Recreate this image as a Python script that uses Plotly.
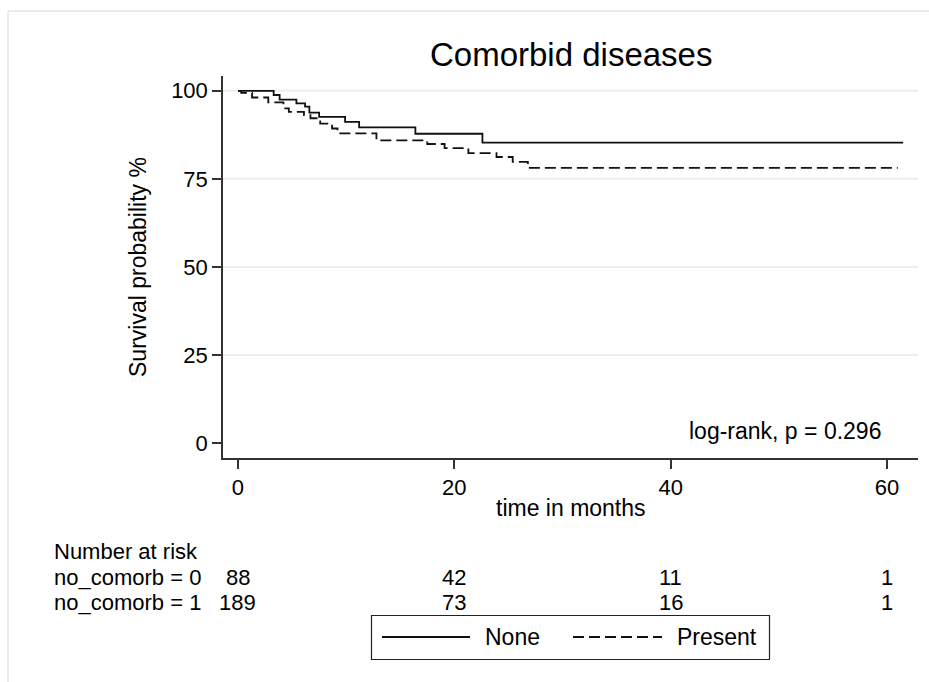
import plotly.graph_objects as go

# ---- data ----
time_none = [0, 3.3, 3.85, 5.4, 6.2, 6.6, 7.5, 9.9, 11.2, 16.4, 22.6, 61.5]
surv_none = [100, 98.8, 97.5, 96.4, 95.5, 93.8, 92.6, 91.2, 89.6, 87.8, 85.3, 85.3]

time_present = [0, 0.3, 1.3, 2.8, 4.2, 4.7, 6.1, 6.7, 7.6, 8.7, 9.2, 12.8, 17.5, 19.1, 21.3, 23.9, 25.4, 26.8, 61.0]
surv_present = [100, 99.4, 98.1, 96.7, 95.0, 94.0, 93.1, 92.2, 90.7, 89.3, 87.9, 85.9, 84.9, 83.7, 82.3, 81.2, 79.8, 78.1, 78.1]

x_ticks = [0, 20, 40, 60]
y_ticks = [0, 25, 50, 75, 100]

risk_labels = ["no_comorb = 0", "no_comorb = 1"]
risk_none = [88, 42, 11, 1]
risk_present = [189, 73, 16, 1]

series_names = ["None", "Present"]
title_text = "Comorbid diseases"
x_title = "time in months"
y_title = "Survival probability %"
logrank_text = "log-rank, p = 0.296"

# ---- layout geometry (pixels) ----
W, H = 929, 682
L, R, T, B = 223, 11, 76, 224
PW, PH = W - L - R, H - T - B


def px(xp):
    return (xp - L) / PW


def py(yp):
    return (H - B - yp) / PH


FONT = "Liberation Sans, Arial, sans-serif"
DASH = "11px,5px"
LINE_COLOR = "#111111"

fig = go.Figure()
fig.add_trace(go.Scatter(x=time_none, y=surv_none, mode="lines", line_shape="hv",
                         name=series_names[0],
                         line=dict(color=LINE_COLOR, width=1.8)))
fig.add_trace(go.Scatter(x=time_present, y=surv_present, mode="lines", line_shape="hv",
                         name=series_names[1],
                         line=dict(color=LINE_COLOR, width=1.8, dash=DASH)))

shapes = []
# gridlines (not at 0)
for v in y_ticks:
    if v > 0:
        shapes.append(dict(type="line", xref="paper", yref="y", x0=0, x1=1, y0=v, y1=v,
                           line=dict(color="#e9f0f2", width=2), layer="below"))
# outer frame (top and left visible)
shapes.append(dict(type="line", xref="paper", yref="paper", x0=px(8), x1=px(W + 5),
                   y0=py(11), y1=py(11), line=dict(color="#e6eef0", width=2)))
shapes.append(dict(type="line", xref="paper", yref="paper", x0=px(8), x1=px(8),
                   y0=py(11), y1=py(H + 5), line=dict(color="#e6eef0", width=2)))
# legend box
LEG_Y = 637
shapes.append(dict(type="rect", xref="paper", yref="paper", x0=px(371.5), x1=px(769.5),
                   y0=py(615.5), y1=py(659.5), line=dict(color="#222222", width=1.2)))
shapes.append(dict(type="line", xref="paper", yref="paper", x0=px(382), x1=px(470),
                   y0=py(LEG_Y), y1=py(LEG_Y), line=dict(color=LINE_COLOR, width=1.8)))
shapes.append(dict(type="line", xref="paper", yref="paper", x0=px(573), x1=px(662),
                   y0=py(LEG_Y), y1=py(LEG_Y), line=dict(color=LINE_COLOR, width=1.8, dash=DASH)))

ann = []


def text(t, x, y, size, xref="paper", xanchor="center", angle=0):
    ann.append(dict(text=t, xref=xref, yref="paper", x=x, y=y, xanchor=xanchor,
                    yanchor="middle", showarrow=False, textangle=angle,
                    font=dict(size=size, color="#000", family=FONT)))


text(title_text, 0.5, py(55), 33)
text(x_title, 0.5, py(508), 23)
text(y_title, px(138), 0.5, 23, angle=-90)
text(logrank_text, px(883), py(431), 23, xanchor="right")
# risk table
text("Number at risk", px(52), py(551), 22, xanchor="left")
row_y = [577, 602]
for lab, vals, ry in zip(risk_labels, [risk_none, risk_present], row_y):
    text(lab, px(52), py(ry), 22, xanchor="left")
    for xv, n in zip(x_ticks, vals):
        text(str(n), xv, py(ry), 22, xref="x")
# legend texts
text(series_names[0], px(483), py(LEG_Y), 23, xanchor="left")
text(series_names[1], px(675), py(LEG_Y), 23, xanchor="left")

fig.update_layout(
    width=W, height=H,
    margin=dict(l=L, r=R, t=T, b=B, autoexpand=False),
    paper_bgcolor="white", plot_bgcolor="white",
    showlegend=False,
    shapes=shapes, annotations=ann,
    font=dict(family=FONT, size=22, color="#000"),
)
fig.update_xaxes(range=[-1.386, 62.87], tickvals=x_ticks, showgrid=False, zeroline=False,
                 showline=True, linecolor="#333", linewidth=1.5,
                 ticks="outside", ticklen=9, tickcolor="#333", tickwidth=1.5,
                 tickfont=dict(size=22, family=FONT, color="#000"))
fig.update_yaxes(range=[-4.26, 104.2], tickvals=y_ticks, showgrid=False, zeroline=False,
                 showline=True, linecolor="#333", linewidth=1.5,
                 ticks="outside", ticklen=9, tickcolor="#333", tickwidth=1.5,
                 tickfont=dict(size=22, family=FONT, color="#000"))

fig.write_html("out.html")
